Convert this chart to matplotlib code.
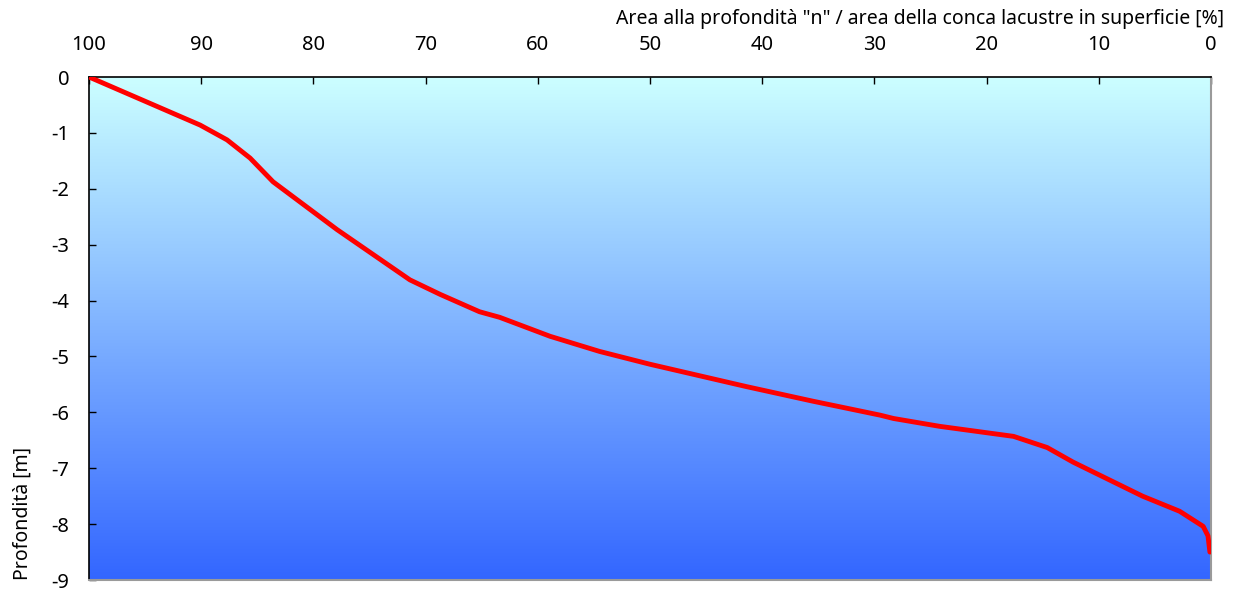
import matplotlib.pyplot as plt
import numpy as np
from matplotlib.colors import LinearSegmentedColormap

# area at depth n / surface area [%] and depth [m]
area_pct = [100, 90.1, 87.7, 85.65, 83.6, 77.9, 71.4, 68.7, 65.2, 63.4,
            58.9, 54.5, 50.0, 41.4, 35.5, 29.5, 28.3, 24.2, 20.9, 17.6,
            14.6, 12.3, 6.1, 2.8, 0.7, 0.27, 0.1]
depth_m = [0, -0.86, -1.125, -1.45, -1.875, -2.73, -3.63, -3.89, -4.20, -4.30,
           -4.64, -4.91, -5.14, -5.54, -5.80, -6.05, -6.11, -6.25, -6.34, -6.43,
           -6.63, -6.89, -7.50, -7.77, -8.04, -8.21, -8.5]

x_ticks = [100, 90, 80, 70, 60, 50, 40, 30, 20, 10, 0]
y_ticks = [0, -1, -2, -3, -4, -5, -6, -7, -8, -9]

plt.rcParams['font.family'] = ['Noto Sans', 'DejaVu Sans']
plt.rcParams['axes.unicode_minus'] = False

fig = plt.figure(figsize=(12.37, 5.91), dpi=100)
ax = fig.add_axes([0.072, 0.0186, 0.907, 0.8511])

# water-like background gradient, light cyan on top to blue at bottom
cmap = LinearSegmentedColormap.from_list("lake", ["#3366ff", "#ccffff"])
grad = np.linspace(0, 1, 256).reshape(-1, 1)
ax.imshow(grad, cmap=cmap, aspect="auto", origin="lower",
          extent=[0, 1, 0, 1], transform=ax.transAxes, zorder=0)

ax.plot(area_pct, depth_m, color="#ff0000", lw=3.5, solid_capstyle="round", zorder=3)

ax.set_xlim(100, 0)
ax.set_ylim(-9, 0)
ax.set_xticks(x_ticks)
ax.set_yticks(y_ticks)
ax.xaxis.tick_top()
ax.tick_params(axis="both", direction="in", length=5, width=1, labelsize=14.5)
ax.tick_params(axis="x", pad=16)
ax.tick_params(axis="y", pad=14)

ax.xaxis.set_label_position("top")
ax.set_xlabel('Area alla profondità "n" / area della conca lacustre in superficie [%]',
              fontsize=14, ha="right")
ax.xaxis.set_label_coords(1.012, 1.105)
ax.set_ylabel("Profondità [m]", fontsize=14, ha="left")
ax.yaxis.set_label_coords(-0.05, 0.0)

for side in ["left", "top"]:
    ax.spines[side].set_color("black")
    ax.spines[side].set_linewidth(1.2)
for side in ["right", "bottom"]:
    ax.spines[side].set_color("#9a9a9a")
    ax.spines[side].set_linewidth(1.5)

fig.savefig("out.png", dpi=100)
